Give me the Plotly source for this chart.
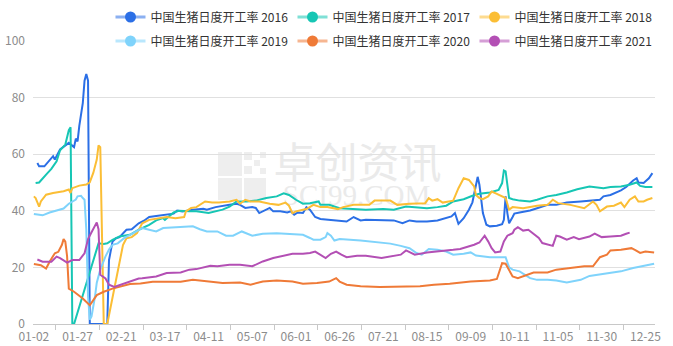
import plotly.graph_objects as go

# category labels shown on the x axis (every 25th category, 356 categories in total)
tick_labels = ["01-02", "01-27", "02-21", "03-17", "04-11", "05-07", "06-01", "06-26",
               "07-21", "08-15", "09-09", "10-11", "11-05", "11-30", "12-25"]
n_categories = 356

series_names = ["中国生猪日度开工率 2016", "中国生猪日度开工率 2017", "中国生猪日度开工率 2018",
                "中国生猪日度开工率 2019", "中国生猪日度开工率 2020", "中国生猪日度开工率 2021"]
colors = ["#2B6FE6", "#16C6B4", "#FBBE35", "#7FD3FB", "#EF7A37", "#B34FB4"]

x_2016 = [2, 3, 6, 9, 11, 12, 15, 20, 22, 23, 24, 25, 26, 27, 28, 29, 30, 31, 32, 42, 43, 45, 47, 49, 53, 56, 60, 63, 66, 70,
          74, 80, 82, 85, 91, 97, 99, 104, 112, 116, 118, 121, 125, 127, 129, 133, 135, 137, 141, 145, 147, 149, 151, 154, 156,
          158, 161, 164, 169, 175, 179, 183, 187, 190, 198, 206, 211, 215, 219, 225, 231, 234, 239, 241, 243, 246, 249, 251,
          253, 254, 255, 257, 259, 261, 265, 268, 269, 270, 271, 272, 274, 275, 278, 284, 288, 294, 299, 305, 313, 320, 324,
          326, 330, 336, 339, 343, 345, 346, 349, 352, 354]
y_2016 = [56.9, 55.7, 55.7, 58.1, 59.3, 58.1, 61.7, 64.0, 63.1, 62.5, 65.5, 64.5, 70.0, 74.0, 78.0, 86.0, 88.3, 86.0, 0, 0, 22.6,
          29.1, 30.3, 30.7, 33.3, 33.5, 35.6, 36.5, 37.8, 38.2, 38.6, 39.0, 40.1, 39.8, 40.4, 40.7, 40.4, 41.3, 42.1, 42.5, 42.1,
          41.0, 41.3, 41.0, 39.2, 40.4, 41.0, 39.8, 39.8, 39.4, 39.8, 38.6, 39.4, 39.2, 41.3, 40.4, 37.8, 37.1, 36.8, 36.6, 36.2,
          37.8, 36.6, 36.8, 36.8, 36.6, 35.6, 36.6, 36.2, 36.2, 36.6, 37.1, 38.0, 39.2, 35.4, 37.4, 40.4, 43.0, 48.6, 52.0, 49.2,
          39.2, 35.1, 34.5, 34.7, 35.3, 36.8, 45.1, 39.2, 35.6, 37.8, 39.0, 39.4, 40.1, 40.9, 42.1, 42.1, 42.9, 43.3, 43.6, 43.9,
          45.1, 45.6, 47.2, 48.4, 50.7, 51.5, 50.0, 49.8, 51.5, 53.3]

x_2017 = [1, 3, 7, 10, 13, 15, 18, 19, 20, 21, 22, 23, 37, 40, 42, 45, 49, 55, 60, 66, 70, 74, 75, 80, 83, 89, 93, 100, 104, 108,
          112, 116, 122, 127, 133, 139, 143, 146, 150, 154, 158, 163, 164, 169, 175, 181, 190, 200, 206, 213, 219, 225, 231, 236,
          240, 246, 251, 255, 261, 266, 268, 269, 270, 272, 274, 278, 284, 288, 294, 299, 305, 311, 318, 322, 326, 330, 336, 341,
          345, 347, 350, 354]
y_2017 = [49.8, 50.0, 52.8, 54.8, 57.5, 61.4, 63.4, 66.4, 68.5, 69.5, 0, 0, 28.5, 28.3, 28.5, 29.7, 30.9, 31.5, 33.3, 35.0, 36.6,
          37.4, 36.8, 39.4, 40.0, 39.8, 39.8, 39.2, 39.8, 40.4, 41.5, 43.3, 43.3, 43.6, 44.5, 45.1, 46.2, 45.6, 43.9, 42.5, 42.7,
          43.3, 42.1, 42.1, 40.9, 40.6, 40.4, 40.6, 40.4, 41.5, 41.3, 40.9, 41.3, 41.8, 43.3, 44.1, 45.3, 46.0, 46.5, 47.4, 49.8,
          54.2, 53.9, 44.5, 44.1, 43.6, 43.3, 43.9, 45.1, 45.6, 46.5, 47.6, 48.6, 48.4, 48.0, 48.4, 48.6, 49.2, 50.0, 48.8, 48.4,
          48.4]

x_2018 = [0, 1, 3, 4, 7, 11, 17, 20, 21, 22, 26, 30, 32, 34, 36, 37, 38, 40, 42, 51, 53, 56, 59, 62, 66, 72, 76, 81, 86, 87, 90,
          93, 98, 102, 106, 112, 116, 118, 121, 124, 129, 135, 140, 144, 146, 148, 150, 154, 156, 160, 164, 168, 171, 174, 177,
          183, 192, 195, 204, 208, 215, 224, 226, 228, 231, 234, 240, 243, 246, 249, 252, 253, 255, 257, 260, 262, 265, 268, 270,
          272, 274, 280, 288, 294, 297, 300, 307, 315, 320, 322, 324, 328, 332, 336, 338, 341, 344, 346, 349, 351, 354]
y_2018 = [45.1, 44.5, 41.5, 43.3, 45.7, 46.3, 46.9, 47.5, 46.3, 48.0, 48.9, 49.3, 50.1, 53.4, 58.1, 63.1, 62.5, 0, 0, 27.9, 30.3,
          30.7, 32.1, 35.6, 36.8, 37.4, 37.8, 37.4, 37.8, 39.8, 41.0, 41.3, 43.3, 42.9, 42.9, 43.3, 43.9, 42.5, 43.9, 43.3, 43.3,
          42.5, 42.1, 42.9, 41.8, 39.2, 39.8, 40.4, 40.6, 42.1, 41.3, 41.3, 40.9, 40.6, 41.3, 42.1, 42.1, 43.6, 43.6, 42.1, 42.5,
          42.7, 44.5, 43.6, 44.1, 42.9, 43.6, 48.0, 51.5, 50.9, 48.6, 45.6, 44.5, 44.1, 45.1, 46.8, 46.0, 45.1, 44.5, 40.4, 41.3,
          40.9, 41.8, 42.1, 43.9, 42.7, 42.1, 40.9, 43.3, 42.1, 39.8, 41.5, 41.8, 42.9, 41.3, 43.9, 45.1, 43.3, 43.3, 43.9, 44.5]

x_2019 = [0, 3, 5, 9, 11, 15, 17, 20, 24, 25, 27, 28, 29, 30, 31, 32, 33, 35, 36, 38, 40, 41, 43, 45, 48, 52, 55, 59, 62, 66, 70,
          74, 84, 91, 95, 99, 105, 110, 114, 119, 125, 131, 139, 147, 154, 158, 160, 164, 167, 168, 170, 172, 175, 187, 196, 204,
          210, 215, 219, 222, 226, 231, 236, 240, 246, 250, 253, 261, 270, 272, 274, 278, 284, 288, 294, 299, 305, 313, 318, 326,
          336, 343, 349, 355]
y_2019 = [38.9, 38.6, 38.4, 39.4, 39.8, 40.4, 40.8, 42.5, 44.0, 45.1, 45.3, 44.5, 43.9, 33.3, 9.8, 1.5, 2.7, 9.8, 14.6, 19.2,
          22.7, 23.9, 26.3, 28.0, 28.5, 30.5, 31.5, 32.8, 33.9, 33.3, 32.7, 33.9, 34.2, 34.5, 33.5, 32.7, 32.7, 31.2, 31.2, 32.7,
          31.2, 31.9, 32.1, 31.9, 31.5, 30.4, 29.8, 29.8, 30.7, 32.1, 31.2, 29.5, 30.0, 29.5, 28.8, 28.4, 27.6, 26.8, 25.1, 24.5,
          26.5, 26.2, 25.6, 24.5, 24.8, 25.3, 24.2, 23.6, 23.6, 20.0, 19.2, 18.6, 16.2, 15.6, 15.6, 15.4, 14.7, 15.6, 17.0, 17.8,
          18.6, 19.8, 20.6, 21.3]

x_2020 = [0, 3, 4, 7, 9, 12, 14, 16, 17, 18, 19, 20, 23, 28, 31, 32, 36, 40, 45, 49, 55, 61, 68, 76, 84, 91, 99, 108, 118, 124,
          131, 139, 148, 154, 162, 169, 173, 175, 179, 187, 198, 209, 221, 229, 238, 250, 255, 261, 265, 267, 268, 270, 272, 274,
          277, 282, 286, 294, 299, 307, 315, 320, 322, 324, 328, 330, 336, 342, 344, 347, 350, 355]
y_2020 = [21.2, 21.0, 20.8, 19.6, 22.0, 25.0, 25.5, 27.9, 30.0, 29.1, 24.0, 12.5, 11.4, 9.0, 7.2, 6.6, 10.2, 11.4, 12.5, 13.1,
          14.1, 14.3, 14.9, 14.9, 14.9, 15.6, 15.0, 14.5, 14.7, 13.9, 15.0, 15.4, 15.0, 14.2, 14.5, 15.0, 16.2, 15.0, 13.9, 13.3,
          13.1, 13.3, 13.3, 13.9, 14.2, 15.0, 15.2, 15.4, 15.9, 19.2, 21.5, 21.3, 19.2, 16.8, 16.2, 17.4, 18.2, 18.2, 19.2, 19.8,
          20.4, 20.4, 22.1, 23.6, 24.5, 26.0, 26.2, 26.8, 26.2, 25.1, 25.6, 25.3]

x_2021 = [2, 5, 10, 13, 15, 19, 22, 26, 29, 31, 33, 35, 36, 37, 38, 41, 43, 46, 49, 55, 60, 62, 68, 70, 76, 84, 89, 93, 101, 105,
          112, 118, 125, 131, 137, 143, 148, 154, 158, 161, 164, 167, 170, 173, 176, 179, 185, 190, 199, 206, 210, 213, 218, 225,
          232, 240, 244, 248, 252, 255, 258, 260, 262, 264, 267, 269, 271, 274, 275, 277, 280, 283, 286, 289, 291, 294, 297, 299,
          301, 305, 309, 312, 315, 318, 321, 325, 330, 336, 339, 341]
y_2021 = [22.8, 22.0, 22.0, 23.8, 23.3, 21.7, 22.6, 22.6, 25.0, 30.0, 32.4, 34.5, 35.9, 33.5, 17.4, 16.1, 13.9, 13.1, 13.7, 15.0,
          16.1, 16.2, 16.7, 16.8, 18.0, 18.2, 19.2, 19.4, 20.6, 20.4, 20.9, 20.9, 20.4, 22.1, 23.3, 24.1, 24.8, 24.8, 25.1, 25.6,
          24.5, 23.3, 24.8, 25.6, 24.5, 23.6, 24.1, 24.1, 23.3, 24.1, 24.5, 26.0, 24.5, 25.3, 25.6, 26.2, 26.5, 27.2, 28.0, 28.8,
          31.2, 29.2, 26.8, 25.3, 25.6, 29.2, 31.2, 32.1, 33.3, 34.2, 33.0, 33.3, 31.9, 30.4, 28.6, 28.0, 27.6, 31.2, 30.9, 29.8,
          30.7, 30.0, 30.4, 30.9, 31.9, 30.7, 30.9, 31.2, 31.9, 32.3]

xs = [x_2016, x_2017, x_2018, x_2019, x_2020, x_2021]
ys = [y_2016, y_2017, y_2018, y_2019, y_2020, y_2021]

W, H = 673, 346
M_L, M_R, M_T, M_B = 33, 18, 41, 22
PW, PH = W - M_L - M_R, H - M_T - M_B

fig = go.Figure()

for name, color, x, y in zip(series_names, colors, xs, ys):
    fig.add_trace(go.Scatter(x=x, y=y, mode="lines", name=name, showlegend=False,
                             line=dict(color=color, width=2), hoverinfo="skip"))


def hex_rgba(h, a):
    h = h.lstrip("#")
    return "rgba(%d,%d,%d,%s)" % (int(h[0:2], 16), int(h[2:4], 16), int(h[4:6], 16), a)


# legend-only entries (line icon with a round symbol), split over two rows
for i, (name, color) in enumerate(zip(series_names, colors)):
    fig.add_trace(go.Scatter(x=[None], y=[None], mode="lines+markers", name=name,
                             legend="legend" if i < 3 else "legend2",
                             line=dict(color=hex_rgba(color, 0.55), width=3),
                             marker=dict(color=color, size=11)))

legend_common = dict(orientation="h", xref="container", yref="container", xanchor="left", yanchor="middle",
                     entrywidth=137, entrywidthmode="pixels", font=dict(size=12, color="#333333",
                     family="Noto Sans CJK SC"), bgcolor="rgba(0,0,0,0)", itemclick=False, itemdoubleclick=False)

axis_color = "#C8C8C8"
label_font = dict(size=12, color="#8C8C8C", family="Noto Sans CJK SC")


def px_x(p):
    return (p - M_L) / PW


def px_y(p):
    return (H - M_B - p) / PH


# watermark (behind the data)
wm_shapes = [
    dict(type="rect", xref="paper", yref="paper", layer="below",
         x0=px_x(270), x1=px_x(445), y0=px_y(186), y1=px_y(146),
         line=dict(width=0), fillcolor="rgba(0,0,0,0)",
         label=dict(text="卓创资讯", font=dict(size=42, color="#EAEAEA", family="Noto Sans CJK SC"),
                    textposition="middle center")),
    dict(type="rect", xref="paper", yref="paper", layer="below",
         x0=px_x(268), x1=px_x(445), y0=px_y(204), y1=px_y(180),
         line=dict(width=0), fillcolor="rgba(0,0,0,0)",
         label=dict(text="SCI99.COM", font=dict(size=29, color="#EAEAEA", family="Liberation Serif"),
                    textposition="middle center")),
]
# logo blocks
for (bx0, by0, bx1, by1) in [(218, 152, 242, 176), (218, 178, 242, 200), (244, 178, 266, 200),
                             (244, 152, 252, 160), (254, 160, 260, 166), (260, 152, 266, 158),
                             (244, 166, 252, 174), (260, 168, 266, 174)]:
    wm_shapes.append(dict(type="rect", xref="paper", yref="paper", layer="below",
                          x0=px_x(bx0), x1=px_x(bx1), y0=px_y(by1), y1=px_y(by0),
                          line=dict(width=0), fillcolor="#EEEEEE"))

fig.update_layout(
    width=W, height=H,
    margin=dict(l=M_L, r=M_R, t=M_T, b=M_B, pad=0, autoexpand=False),
    paper_bgcolor="white", plot_bgcolor="white",
    showlegend=True,
    legend=dict(x=110.5 / W, y=1 - 17 / H, **legend_common),
    legend2=dict(x=110.5 / W, y=1 - 41 / H, **legend_common),
    xaxis=dict(range=[-0.5, n_categories - 0.5], tickmode="array",
               tickvals=[25 * i for i in range(len(tick_labels))], ticktext=tick_labels,
               ticks="", showgrid=False, zeroline=False, showline=True, linecolor=axis_color, linewidth=1,
               tickfont=label_font, ticklabelstandoff=2,
               minor=dict(tickvals=[25 * i + 12.5 for i in range(len(tick_labels) - 1)], ticks="outside",
                          ticklen=5, tickcolor=axis_color, showgrid=False)),
    yaxis=dict(range=[0, 100], tickmode="array", tickvals=[0, 20, 40, 60, 80, 100], ticks="",
               showgrid=True, gridcolor="#E0E0E0", gridwidth=1, zeroline=False, showline=False,
               tickfont=label_font, ticklabelstandoff=7),
    shapes=wm_shapes,
)

fig.write_html("out.html")
